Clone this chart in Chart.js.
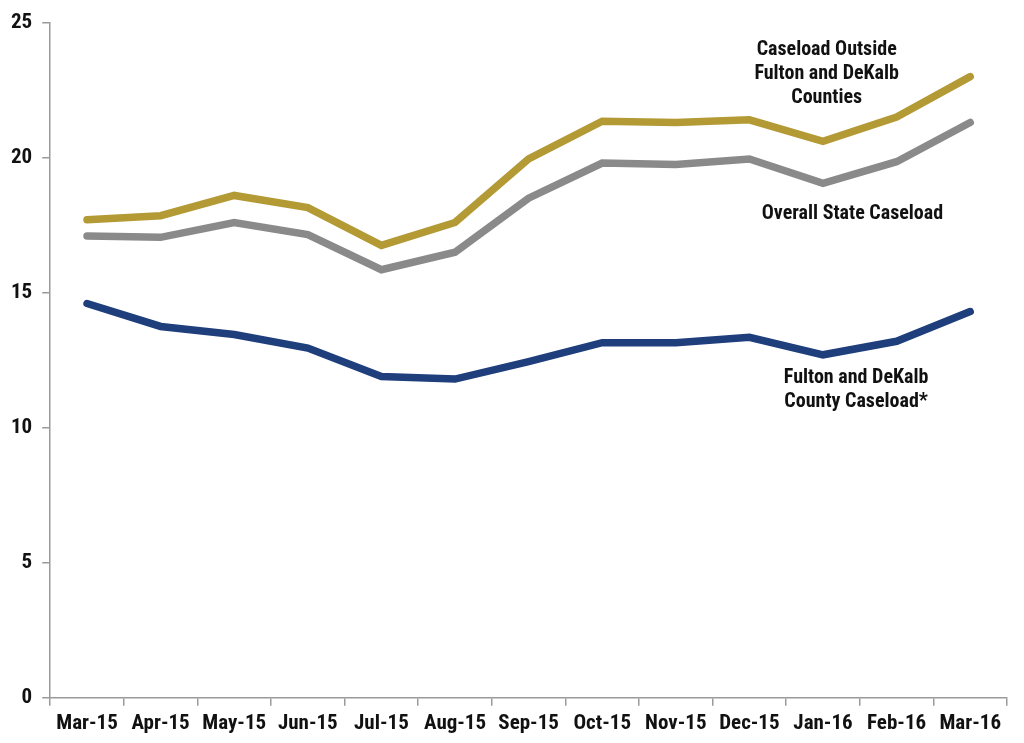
<!DOCTYPE html>
<html>
<head>
<meta charset="utf-8">
<script src="https://cdn.jsdelivr.net/npm/chart.js@4/dist/chart.umd.min.js"></script>
<style>
  html, body { margin: 0; padding: 0; background: #ffffff; }
  #wrap { width: 1024px; height: 743px; }
</style>
</head>
<body>
<div id="wrap"><canvas id="caseloadChart"></canvas></div>
<script>
const months = ['Mar-15', 'Apr-15', 'May-15', 'Jun-15', 'Jul-15', 'Aug-15', 'Sep-15',
                'Oct-15', 'Nov-15', 'Dec-15', 'Jan-16', 'Feb-16', 'Mar-16'];
const outsideCaseload = [17.7, 17.85, 18.6, 18.15, 16.75, 17.6, 19.95, 21.35, 21.3, 21.4, 20.6, 21.5, 23.0];
const stateCaseload   = [17.1, 17.05, 17.6, 17.15, 15.85, 16.5, 18.5, 19.8, 19.75, 19.95, 19.05, 19.85, 21.3];
const fultonCaseload  = [14.6, 13.75, 13.45, 12.95, 11.9, 11.8, 12.45, 13.15, 13.15, 13.35, 12.7, 13.2, 14.3];
const yTicks = [0, 5, 10, 15, 20, 25];

const labelFont = '"Liberation Sans Narrow", "Arial Narrow", "Roboto Condensed", "Liberation Sans", sans-serif';

// series annotations, placed with the chart scales (x = category index, y = value)
const seriesNotes = [
    { lines: ['Caseload Outside', 'Fulton and DeKalb', 'Counties'], x: 10.05, y: 24.0 },
    { lines: ['Overall State Caseload'], x: 10.4, y: 17.9 },
    { lines: ['Fulton and DeKalb', 'County Caseload*'], x: 10.45, y: 11.85 }
];

const notesPlugin = {
    id: 'seriesNotes',
    afterDatasetsDraw(chart) {
        const ctx = chart.ctx;
        const xs = chart.scales.x, ys = chart.scales.y;
        ctx.save();
        ctx.font = 'bold 20px ' + labelFont;
        ctx.fillStyle = '#111111';
        ctx.textAlign = 'center';
        ctx.textBaseline = 'middle';
        seriesNotes.forEach(n => {
            const px = xs.getPixelForValue(n.x);
            const py = ys.getPixelForValue(n.y);
            n.lines.forEach((t, i) => ctx.fillText(t, px, py + i * 24));
        });
        ctx.restore();
    }
};

const ctx = document.getElementById('caseloadChart').getContext('2d');
new Chart(ctx, {
    type: 'line',
    data: {
        labels: months,
        datasets: [{
            label: 'Caseload Outside Fulton and DeKalb Counties',
            data: outsideCaseload,
            borderColor: '#B39A35'
        }, {
            label: 'Overall State Caseload',
            data: stateCaseload,
            borderColor: '#8A8A8A'
        }, {
            label: 'Fulton and DeKalb County Caseload*',
            data: fultonCaseload,
            borderColor: '#1F3E7C'
        }]
    },
    options: {
        responsive: true,
        maintainAspectRatio: false,
        animation: false,
        layout: { padding: { left: 1, right: 17, top: 6, bottom: 2 } },
        elements: {
            line: { borderWidth: 7.5, tension: 0, borderCapStyle: 'round', borderJoinStyle: 'miter' },
            point: { radius: 0, hoverRadius: 0 }
        },
        plugins: {
            legend: { display: false },
            tooltip: { enabled: false }
        },
        scales: {
            x: {
                offset: true,
                grid: { offset: true, drawOnChartArea: false, drawTicks: true, tickLength: 8, color: '#9a9a9a', lineWidth: 1.5 },
                border: { display: true, color: '#9a9a9a', width: 1.5 },
                ticks: {
                    color: '#111111',
                    padding: 5,
                    maxRotation: 0,
                    autoSkip: false,
                    font: { family: labelFont, size: 21, weight: 'bold' }
                }
            },
            y: {
                min: 0,
                max: 25,
                afterBuildTicks(axis) { axis.ticks = yTicks.map(v => ({ value: v })); },
                grid: { drawOnChartArea: false, drawTicks: true, tickLength: 8, color: '#9a9a9a', lineWidth: 1.5 },
                border: { display: true, color: '#9a9a9a', width: 1.5 },
                ticks: {
                    color: '#111111',
                    padding: 10,
                    font: { family: labelFont, size: 21, weight: 'bold' }
                }
            }
        }
    },
    plugins: [notesPlugin]
});
</script>
</body>
</html>
